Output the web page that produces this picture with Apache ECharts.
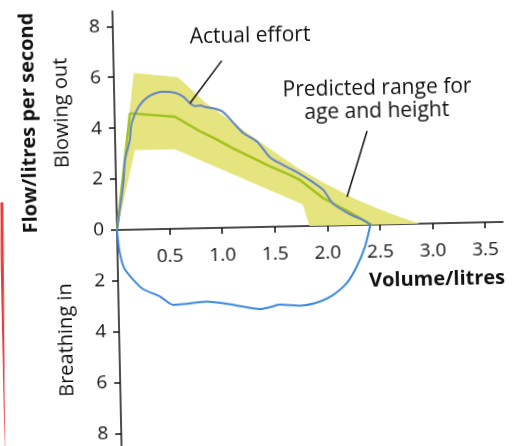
<!DOCTYPE html>
<html>
<head>
<meta charset="utf-8">
<script src="https://cdn.jsdelivr.net/npm/echarts@6/dist/echarts.min.js"></script>
<style>
html,body{margin:0;padding:0;background:#fff;overflow:hidden;}
#c{width:518px;height:446px;transform:rotate(-1.2deg);transform-origin:117px 230px;}
</style>
</head>
<body>
<div id="c"></div>
<script>
// ---- data (volume in litres, flow in litres per second; inhalation negative) ----
const volumeTicks = [0.5, 1.0, 1.5, 2.0, 2.5, 3.0, 3.5];
const flowTicks = [-8, -6, -4, -2, 0, 2, 4, 6, 8];

const bandUpper = [[0,0],[0.19,6.16],[0.61,5.95],[0.86,4.95],[1.13,4.1],[1.44,3.15],[1.72,2.32],[1.97,1.7],[2.28,1.0],[2.6,0.42],[2.88,0]];
const bandLower = [[0,0],[0.186,3.12],[0.567,3.12],[1.77,0.85],[1.83,0]];

const predictedMean = [[0,0],[0.146,4.57],[0.574,4.4],[0.81,3.8],[0.95,3.51],[1.12,3.11],[1.44,2.43],[1.66,2.01],[1.75,1.81],[1.97,1.07],[2.2,0.55],[2.42,0]];

const actualExhale = [[0,0],[0.07,1.83],[0.09,2.74],[0.14,3.52],[0.16,4.17],[0.23,4.82],[0.32,5.2],[0.45,5.39],[0.58,5.34],[0.66,5.17],[0.72,4.91],[0.77,4.8],[0.82,4.82],[0.86,4.76],[0.94,4.7],[1.03,4.55],[1.12,4.15],[1.22,3.7],[1.35,3.35],[1.47,2.72],[1.59,2.42],[1.75,2.05],[1.85,1.78],[1.97,1.4],[2.06,0.85],[2.22,0.42],[2.34,0.19],[2.41,0]];

const actualInhale = [[0,0],[0.02,-0.85],[0.06,-1.5],[0.145,-1.97],[0.238,-2.35],[0.395,-2.65],[0.52,-2.99],[0.648,-2.96],[0.838,-2.89],[1.09,-3.04],[1.343,-3.23],[1.439,-3.16],[1.534,-3.07],[1.724,-3.13],[1.915,-2.98],[2.043,-2.73],[2.173,-2.28],[2.271,-1.64],[2.354,-0.86],[2.41,0]];

const FONT = 'Open Sans';
const chart = echarts.init(document.getElementById('c'), null, {renderer: 'canvas'});

const axisCol = '#111';
const upTicks = flowTicks.filter(v => v >= 0);
const downTicks = flowTicks.filter(v => v < 0);

const yBase = {
  type: 'value',
  axisLine: {onZero: false, lineStyle: {color: axisCol, width: 1.5}},
  axisTick: {show: true, length: 6, lineStyle: {color: axisCol, width: 1.5}},
  axisLabel: {margin: 13, fontFamily: FONT, fontSize: 19, color: axisCol, formatter: v => String(Math.abs(v))},
  splitLine: {show: false}
};

const option = {
  animation: false,
  backgroundColor: '#ffffff',
  grid: [
    {left: 117, right: 15, top: 11, height: 219, containLabel: false, outerBoundsMode: 'none'},
    {left: 117, right: 15, top: 230, bottom: 0, containLabel: false, outerBoundsMode: 'none'}
  ],
  xAxis: [
    {
      gridIndex: 0, type: 'value', min: 0, max: 3.67, position: 'bottom',
      axisLine: {onZero: false, lineStyle: {color: axisCol, width: 1.5}},
      axisTick: {show: true, inside: false, length: 6, customValues: volumeTicks, lineStyle: {color: axisCol, width: 1.5}},
      axisLabel: {customValues: volumeTicks, margin: 18, fontFamily: FONT, fontSize: 19, color: axisCol,
        formatter: v => v.toFixed(1)},
      splitLine: {show: false}
    },
    {
      gridIndex: 1, type: 'value', min: 0, max: 3.67, show: false
    }
  ],
  yAxis: [
    Object.assign({}, yBase, {gridIndex: 0, min: 0, max: 8.6,
      axisTick: Object.assign({}, yBase.axisTick, {customValues: upTicks}),
      axisLabel: Object.assign({}, yBase.axisLabel, {customValues: upTicks})}),
    Object.assign({}, yBase, {gridIndex: 1, min: -8.5, max: 0,
      axisTick: Object.assign({}, yBase.axisTick, {customValues: downTicks}),
      axisLabel: Object.assign({}, yBase.axisLabel, {customValues: downTicks})})
  ],
  series: [
    {
      type: 'custom', name: 'Predicted range', z: 1, silent: true, xAxisIndex: 0, yAxisIndex: 0,
      data: [0],
      renderItem: function (params, api) {
        const pts = bandUpper.map(p => api.coord(p)).concat(bandLower.slice().reverse().map(p => api.coord(p)));
        return {type: 'polygon', shape: {points: pts}, style: {fill: '#e5e47f', stroke: null}};
      }
    },
    {
      type: 'line', name: 'Predicted', z: 2, xAxisIndex: 0, yAxisIndex: 0, data: predictedMean, showSymbol: false, symbol: 'none',
      lineStyle: {color: '#a3c21e', width: 2.5}
    },
    {
      type: 'line', name: 'Actual out', z: 3, xAxisIndex: 0, yAxisIndex: 0, data: actualExhale, showSymbol: false, symbol: 'none', smooth: 0.25,
      lineStyle: {color: '#6384c8', width: 2}
    },
    {
      type: 'line', name: 'Actual in', z: 3, xAxisIndex: 1, yAxisIndex: 1, data: actualInhale, showSymbol: false, symbol: 'none', smooth: 0.25,
      lineStyle: {color: '#3b88e0', width: 2}
    }
  ],
  graphic: [
    {type: 'text', x: 31.7, y: 121.2, rotation: Math.PI / 2,
      style: {text: 'Flow/litres per second', font: 'bold 20px "Open Sans"', fill: '#111', align: 'center', verticalAlign: 'middle'}},
    {type: 'text', x: 64.5, y: 111.8, rotation: Math.PI / 2,
      style: {text: 'Blowing out', font: '20px "Open Sans"', fill: '#111', align: 'center', verticalAlign: 'middle'}},
    {type: 'text', x: 64.7, y: 339, rotation: Math.PI / 2,
      style: {text: 'Breathing in', font: '20px "Open Sans"', fill: '#111', align: 'center', verticalAlign: 'middle'}},
    {type: 'text', x: 436, y: 286.7,
      style: {text: 'Volume/litres', font: 'bold 20px "Open Sans"', fill: '#111', align: 'center', verticalAlign: 'middle'}},
    {type: 'text', x: 254, y: 38.8,
      style: {text: 'Actual effort', font: '21px "Open Sans"', fill: '#111', align: 'center', verticalAlign: 'middle'}},
    {type: 'line', shape: {x1: 225.3, y1: 62.9, x2: 192.7, y2: 104.8}, style: {stroke: '#111', lineWidth: 1.5}, z: 10},
    {type: 'text', x: 380, y: 93.8,
      style: {text: 'Predicted range for', font: '21px "Open Sans"', fill: '#111', align: 'center', verticalAlign: 'middle'}},
    {type: 'text', x: 379.2, y: 117.2,
      style: {text: 'age and height', font: '21px "Open Sans"', fill: '#111', align: 'center', verticalAlign: 'middle'}},
    {type: 'line', shape: {x1: 369.1, y1: 136.2, x2: 347.7, y2: 201.8}, style: {stroke: '#111', lineWidth: 1.5}, z: 10},
    {type: 'line', shape: {x1: 2.5, y1: 200, x2: -1.5, y2: 470}, style: {stroke: '#e53a3a', lineWidth: 3}, z: 10}
  ]
};
chart.setOption(option);
</script>
</body>
</html>
